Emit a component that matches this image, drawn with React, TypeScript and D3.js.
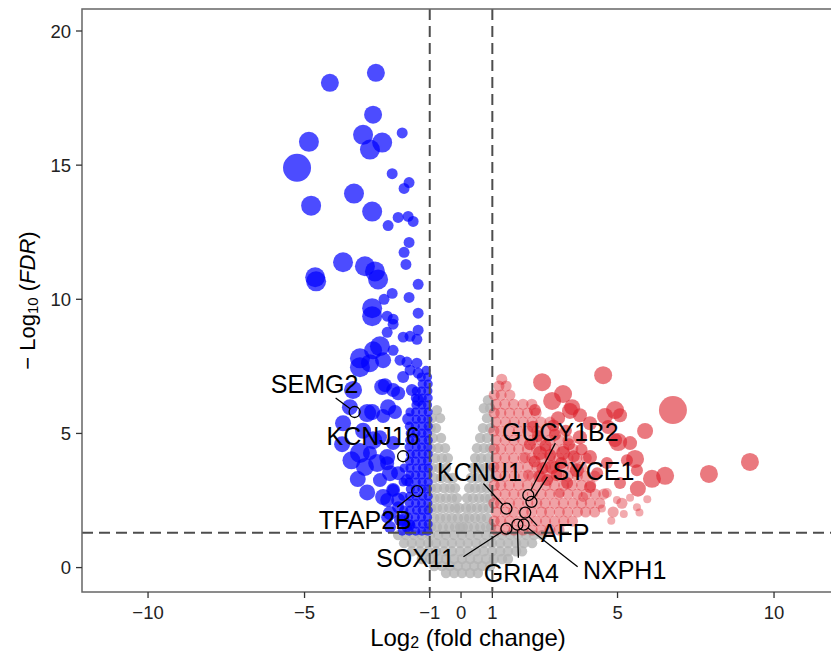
import * as d3 from "d3";

// axis ticks
const xTicks = [-10, -5, -1, 0, 1, 5, 10];
const yTicks = [0, 5, 10, 15, 20];
const fcCut = 1;
const fdrCut = 1.3;

// down-regulated genes, scattered: [log2FC, -log10 FDR, baseMean]
const downGenes: [number, number, number][] = [
  [-4.19, 18.07, 81], [-2.72, 18.44, 81], [-2.81, 16.88, 81], [-1.88, 16.2, 30],
  [-3.13, 16.13, 100], [-2.52, 15.84, 100], [-2.91, 15.58, 100], [-4.86, 15.87, 100],
  [-5.24, 14.9, 196], [-2.2, 14.68, 30], [-1.66, 14.35, 30], [-1.82, 14.13, 30],
  [-3.42, 13.94, 100], [-4.79, 13.49, 100], [-2.84, 13.27, 100], [-2.01, 13.05, 30],
  [-1.69, 13.09, 30], [-1.53, 12.9, 30], [-2.33, 12.75, 30], [-1.66, 12.12, 30],
  [-1.82, 11.75, 30], [-1.76, 11.3, 30], [-3.77, 11.38, 100], [-3.07, 11.23, 100],
  [-2.75, 11.04, 100], [-2.65, 10.74, 100], [-4.66, 10.82, 100], [-4.63, 10.67, 100],
  [-1.37, 10.56, 30], [-2.2, 10.22, 30], [-2.46, 10.0, 30], [-1.66, 10.07, 30],
  [-2.84, 9.67, 100], [-2.84, 9.37, 100], [-1.37, 9.48, 30], [-2.36, 9.37, 30],
  [-2.17, 9.26, 30], [-2.17, 9.07, 30], [-2.36, 8.77, 30], [-1.85, 8.59, 30],
  [-1.63, 8.62, 30], [-1.37, 8.85, 30], [-1.41, 8.51, 30], [-2.59, 8.25, 100],
  [-2.17, 8.1, 30], [-1.95, 7.73, 30], [-1.73, 7.66, 30], [-1.41, 7.62, 30],
  [-1.63, 7.36, 30], [-1.37, 7.25, 30], [-3.23, 7.8, 100], [-2.91, 7.62, 81],
  [-2.81, 8.1, 81], [-3.23, 7.47, 100], [-2.49, 7.73, 64], [-3.45, 6.62, 81],
  [-2.52, 6.73, 64], [-2.17, 6.62, 49], [-1.85, 7.1, 36], [-3.0, 5.76, 81],
  [-2.33, 5.98, 64], [-3.77, 5.38, 64], [-2.81, 4.75, 81], [-3.23, 4.27, 100],
  [-2.68, 3.9, 81], [-3.07, 3.75, 81], [-2.27, 3.52, 64], [-2.36, 4.12, 64],
  [-2.17, 2.89, 49], [-2.49, 2.63, 64], [-2.01, 2.52, 49], [-1.73, 3.26, 36],
  [-2.27, 2.03, 49], [-1.85, 1.77, 36], [-1.63, 1.58, 30], [-3.55, 5.98, 64],
  [-3.8, 4.6, 64], [-3.5, 4.0, 81], [-3.3, 3.3, 64], [-3.0, 2.8, 64],
  [-2.43, 6.8, 49], [-2.01, 6.5, 49], [-1.57, 6.62, 36], [-1.37, 6.24, 36],
  [-2.84, 5.8, 64], [-2.49, 5.65, 49], [-2.11, 5.8, 49], [-1.69, 5.54, 36],
  [-3.13, 5.1, 64], [-2.59, 4.86, 49], [-2.17, 4.64, 49], [-2.91, 4.27, 49],
  [-2.36, 3.89, 49], [-2.01, 3.52, 49], [-2.59, 3.26, 49], [-2.17, 2.89, 36],
  [-2.36, 2.52, 49], [-2.01, 2.25, 36], [-2.36, 1.88, 36], [-1.95, 1.77, 36],
  [-2.27, 1.51, 36], [-1.73, 1.51, 30],
];

// down-regulated genes packed near the cut-off: [-log10 FDR, log2FC list]
const downDense: [number, number[]][] = [
  [1.36, [-1.06, -1.25, -1.45, -1.66, -1.88]],
  [1.62, [-1.05, -1.23, -1.43, -1.62, -1.84]],
  [1.88, [-1.07, -1.26, -1.46, -1.68]],
  [2.14, [-1.05, -1.24, -1.42, -1.63, -1.83]],
  [2.4, [-1.06, -1.26, -1.45, -1.65]],
  [2.66, [-1.05, -1.23, -1.44, -1.64, -1.86]],
  [2.93, [-1.07, -1.25, -1.46, -1.62]],
  [3.19, [-1.05, -1.24, -1.43, -1.66, -1.85]],
  [3.45, [-1.06, -1.26, -1.45, -1.64]],
  [3.71, [-1.05, -1.23, -1.42, -1.63, -1.82]],
  [3.97, [-1.07, -1.25, -1.46, -1.65]],
  [4.23, [-1.05, -1.24, -1.44, -1.62]],
  [4.49, [-1.06, -1.26, -1.43, -1.66]],
  [4.75, [-1.05, -1.23, -1.45, -1.64]],
  [5.01, [-1.07, -1.25, -1.44, -1.62]],
  [5.27, [-1.05, -1.24, -1.46, -1.65]],
  [5.53, [-1.06, -1.26, -1.43]],
  [5.8, [-1.05, -1.23, -1.45, -1.63]],
  [6.06, [-1.07, -1.25, -1.44]],
  [6.32, [-1.05, -1.24, -1.46]],
  [6.58, [-1.06, -1.26, -1.43]],
  [6.84, [-1.05, -1.24]],
  [7.1, [-1.07, -1.27]],
  [7.35, [-1.12]],
];

// up-regulated genes, scattered: [log2FC, -log10 FDR, baseMean]
const upGenes: [number, number, number][] = [
  [6.77, 5.87, 196], [4.54, 7.17, 81], [4.92, 5.87, 81], [4.6, 5.65, 64], [3.26, 6.47, 81],
  [5.02, 4.68, 81], [5.56, 4.05, 81], [6.1, 3.31, 81], [6.52, 3.42, 81], [7.92, 3.49, 81],
  [9.23, 3.94, 81], [3.48, 5.84, 64], [2.59, 6.91, 81], [2.91, 6.21, 81], [5.88, 5.09, 64],
  [5.65, 2.94, 64], [2.36, 5.87, 36], [3.55, 5.98, 64], [3.8, 5.68, 49], [5.08, 5.68, 49],
  [3.1, 5.57, 49], [4.12, 5.38, 49], [4.7, 5.24, 49], [3.8, 4.86, 49], [4.92, 4.75, 49],
  [5.4, 4.64, 49], [2.52, 4.27, 49], [3.26, 4.27, 49], [4.12, 4.12, 49], [4.66, 3.9, 36],
  [5.3, 4.0, 36], [2.91, 3.75, 49], [3.7, 3.63, 49], [4.35, 3.52, 36], [5.62, 3.63, 36],
  [2.75, 3.26, 36], [3.39, 3.15, 36], [4.12, 3.0, 36], [5.08, 3.15, 36], [3.16, 2.78, 25],
  [3.9, 2.63, 25], [4.66, 2.78, 25], [5.62, 2.25, 16], [4.98, 2.52, 16], [5.4, 2.6, 16],
  [5.7, 2.05, 16], [5.95, 2.55, 16], [4.8, 1.75, 16], [4.5, 2.2, 16], [5.2, 2.0, 16],
  [2.45, 4.9, 36], [2.7, 4.55, 36], [3.0, 4.95, 36], [2.35, 3.95, 36], [3.05, 3.45, 36],
  [2.6, 3.7, 36], [3.45, 4.6, 36], [2.2, 4.6, 36], [2.85, 4.2, 36], [3.2, 3.9, 36],
  [2.5, 3.4, 36], [3.6, 4.15, 36], [2.95, 5.3, 36], [3.35, 5.1, 36], [2.3, 5.25, 36],
  [3.85, 4.4, 36], [2.05, 4.1, 30], [2.15, 3.45, 30],
];

// up-regulated genes packed near the cut-off: [-log10 FDR, log2FC list]
const upDense: [number, number[]][] = [
  [1.4, [1.12, 1.41, 1.69, 1.98, 2.27, 2.56, 2.84, 3.13]],
  [1.73, [1.06, 1.27, 1.55, 1.84, 2.12, 2.41, 2.7, 2.99, 3.28, 3.56]],
  [2.07, [1.12, 1.42, 1.68, 1.99, 2.26, 2.57, 2.83, 3.14, 3.41, 3.72, 3.98, 4.27, 4.86]],
  [2.4, [1.05, 1.26, 1.55, 1.83, 2.13, 2.42, 2.69, 2.99, 3.27, 3.57, 3.85, 4.13, 4.43, 5.14]],
  [2.74, [1.12, 1.41, 1.69, 1.97, 2.28, 2.56, 2.84, 3.12, 3.42, 3.71, 4.0, 4.29, 4.56]],
  [3.07, [1.06, 1.27, 1.54, 1.84, 2.12, 2.41, 2.71, 2.98, 3.28, 3.55, 3.85, 4.14]],
  [3.41, [1.12, 1.4, 1.7, 1.99, 2.27, 2.55, 2.84, 3.14, 3.42, 3.72, 3.98, 4.27]],
  [3.75, [1.05, 1.26, 1.55, 1.83, 2.13, 2.42, 2.7, 2.99, 3.27, 3.56, 3.85]],
  [4.08, [1.12, 1.4, 1.68, 1.98, 2.26, 2.57, 2.84, 3.13, 3.42, 3.7, 4.0]],
  [4.42, [1.06, 1.27, 1.56, 1.84, 2.12, 2.41, 2.7, 2.98, 3.28, 3.57]],
  [4.75, [1.12, 1.41, 1.69, 1.97, 2.28, 2.56, 2.84, 3.13, 3.42]],
  [5.09, [1.05, 1.26, 1.55, 1.83, 2.13, 2.42, 2.71, 2.99]],
  [5.42, [1.12, 1.42, 1.7, 1.99, 2.27, 2.55, 2.84]],
  [5.76, [1.06, 1.27, 1.55, 1.84, 2.12, 2.4]],
  [6.09, [1.12, 1.4, 1.68, 1.98, 2.26]],
  [6.43, [1.06, 1.28, 1.56]],
  [6.77, [1.21, 1.44]],
  [7.02, [1.3]],
];

// not significant genes: [-log10 FDR, log2FC list]
const nsDense: [number, number[]][] = [
  [6.24, [0.86]],
  [5.94, [0.73, 0.93]],
  [5.87, [-0.77]],
  [5.57, [-0.67, -0.93, 0.83]],
  [5.2, [-0.8, -0.97, 0.7, 0.93]],
  [4.83, [-0.64, -0.9, 0.61, 0.83]],
  [4.45, [-0.73, -0.51, -0.96, 0.51, 0.73, 0.93]],
  [4.08, [-0.83, -0.61, -0.42, 0.45, 0.64, 0.86]],
  [3.71, [-0.93, -0.7, -0.48, 0.38, 0.58, 0.77, 0.93]],
  [3.34, [-0.86, -0.64, -0.42, -0.26, 0.32, 0.51, 0.7, 0.89]],
  [2.96, [-0.96, -0.77, -0.54, -0.35, -0.19, 0.26, 0.45, 0.64, 0.83]],
  [2.59, [-0.86, -0.67, -0.48, -0.29, -0.13, 0.19, 0.38, 0.58, 0.77, 0.93]],
  [2.22, [-0.96, -0.77, -0.58, -0.38, -0.19, -0.06, 0.16, 0.32, 0.51, 0.7, 0.89]],
  [1.85, [-0.86, -0.67, -0.48, -0.29, -0.1, 0.1, 0.26, 0.45, 0.64, 0.83]],
  [1.51, [-0.96, -0.77, -0.58, -0.38, -0.19, -0.03, 0.06, 0.22, 0.42, 0.61, 0.8, 0.96]],
  [1.21, [-2.01, -1.76, -1.5, -1.25, -0.99, -0.73, -0.48, -0.22, 0.03, 0.29, 0.54, 0.8, 1.05, 1.31, 1.57, 1.82, 2.08, 2.33, 2.59]],
  [0.91, [-1.82, -1.57, -1.31, -1.05, -0.8, -0.54, -0.29, -0.03, 0.22, 0.48, 0.73, 0.99, 1.25, 1.5, 1.76, 2.01, 2.27]],
  [0.61, [-1.57, -1.31, -1.05, -0.8, -0.54, -0.29, -0.03, 0.22, 0.48, 0.73, 0.99, 1.25, 1.5, 1.76, 1.95]],
  [0.32, [-1.25, -0.99, -0.73, -0.48, -0.22, 0.03, 0.29, 0.54, 0.8, 1.05, 1.31, 1.5]],
  [0.06, [-0.86, -0.61, -0.35, -0.1, 0.16, 0.42, 0.67, 0.93]],
  [-0.2, [-0.48, -0.22, 0.03, 0.29, 0.54]],
];
const downDenseMean = 21;
const upDenseMean = 31;
const nsMean = 27;

// highlighted genes
const labelGenes = ["SEMG2", "KCNJ16", "TFAP2B", "KCNU1", "SOX11", "GUCY1B2", "SYCE1", "AFP", "GRIA4", "NXPH1"];
const labelFC = [-3.4, -1.85, -1.4, 1.45, 1.45, 2.15, 2.25, 2.05, 1.8, 2.0];
const labelFDR = [5.8, 4.15, 2.85, 2.2, 1.45, 2.7, 2.45, 2.05, 1.6, 1.6];
// repel placement, px offsets: [text dx, text dy, segment dx, segment dy]
const labelNudge: [number, number, number | null, number | null][] = [
  [-40, -28, -19, -14],
  [-30, -20, null, null],
  [-52, 29, -20, 16],
  [-27, -37, -23, -25],
  [-91, 29, -43, 28],
  [32, -63, 27, -52],
  [62, -31, 16, -25],
  [40, 20, 12, 13],
  [4, 48, 1, 33],
  [101, 45, 54, 42],
];

const W = 831;
const H = 654;
const font = "'Liberation Sans', Arial, Helvetica, sans-serif";

const x = d3.scaleLinear().domain([-12.11, 11.82]).range([82, 831]);
const y = d3.scaleLinear().domain([-0.91, 20.82]).range([592, 9]);
const r = d3.scaleSqrt().domain([0, 100]).range([0, 10]);
const upAlpha = d3.scaleLinear().domain([30, 36]).range([0.38, 0.6]).clamp(true);

const flat = (rows: [number, number[]][], mean: number) =>
  rows.flatMap(([fdr, fcs]) => fcs.map((fc) => [fc, fdr, mean] as [number, number, number]));

export default function App() {
  const ns = flat(nsDense, nsMean);
  const down = [...flat(downDense, downDenseMean), ...downGenes];
  const up = [...flat(upDense, upDenseMean), ...upGenes];

  return (
    <svg width={W} height={H} style={{ position: "absolute", left: 0, top: 0, background: "#fff" }}>
      <defs>
        <clipPath id="panel">
          <rect x={82} y={9} width={760} height={583} />
        </clipPath>
      </defs>

      <g clipPath="url(#panel)">
        {ns.map((d, i) => (
          <circle key={"n" + i} cx={x(d[0])} cy={y(d[1])} r={r(d[2])} fill="#b3b3b3" fillOpacity={0.8} />
        ))}
        {up.map((d, i) => (
          <circle key={"u" + i} cx={x(d[0])} cy={y(d[1])} r={r(d[2])} fill="#dc1f2a" fillOpacity={upAlpha(d[2])} />
        ))}
        {down.map((d, i) => (
          <circle key={"d" + i} cx={x(d[0])} cy={y(d[1])} r={r(d[2])} fill="#0000ff" fillOpacity={0.7} />
        ))}

        {/* cut-off lines */}
        {[-fcCut, fcCut].map((v) => (
          <line key={v} x1={x(v)} x2={x(v)} y1={9} y2={592} stroke="#4d4d4d" strokeWidth={2} strokeDasharray="11,6" />
        ))}
        <line x1={82} x2={840} y1={y(fdrCut)} y2={y(fdrCut)} stroke="#4d4d4d" strokeWidth={2} strokeDasharray="11,6" />
      </g>

      {/* labelled genes */}
      {labelGenes.map((g, i) => {
        const px = x(labelFC[i]);
        const py = y(labelFDR[i]);
        const [tx, ty, lx, ly] = labelNudge[i];
        let seg = null;
        if (lx !== null && ly !== null) {
          const len = Math.hypot(lx, ly);
          seg = (
            <line x1={px + (lx / len) * 5.5} y1={py + (ly / len) * 5.5} x2={px + lx} y2={py + ly} stroke="#000" strokeWidth={1.3} />
          );
        }
        return (
          <g key={g}>
            <circle cx={px} cy={py} r={5.5} fill="none" stroke="#000" strokeWidth={1.3} />
            {seg}
            <text x={px + tx} y={py + ty} textAnchor="middle" dominantBaseline="central" fontFamily={font} fontSize={25} fill="#000">
              {g}
            </text>
          </g>
        );
      })}

      {/* panel border */}
      <rect x={82} y={9} width={760} height={583} fill="none" stroke="#666" strokeWidth={1.5} />

      {/* x axis */}
      {xTicks.map((t) => (
        <g key={t}>
          <line x1={x(t)} x2={x(t)} y1={592} y2={598} stroke="#333" strokeWidth={1.3} />
          <text x={x(t)} y={612} textAnchor="middle" dominantBaseline="central" fontFamily={font} fontSize={18.5} fill="#222">
            {t < 0 ? "\u2212" + Math.abs(t) : t}
          </text>
        </g>
      ))}
      <text x={468} y={637} textAnchor="middle" dominantBaseline="central" fontFamily={font} fontSize={24} fill="#000">
        Log<tspan fontSize={16} dy={5}>2</tspan>
        <tspan dy={-5}> (fold change)</tspan>
      </text>

      {/* y axis */}
      {yTicks.map((t) => (
        <g key={t}>
          <line x1={76} x2={82} y1={y(t)} y2={y(t)} stroke="#333" strokeWidth={1.3} />
          <text x={71} y={y(t)} textAnchor="end" dominantBaseline="central" fontFamily={font} fontSize={18.5} fill="#222">
            {t}
          </text>
        </g>
      ))}
      <text
        transform={`translate(27, ${(9 + 592) / 2}) rotate(-90)`}
        textAnchor="middle"
        dominantBaseline="central"
        fontFamily={font}
        fontSize={22}
        fill="#000"
      >
        {"\u2212 Log"}
        <tspan fontSize={15} dy={5}>10</tspan>
        <tspan dy={-5}> (</tspan>
        <tspan fontStyle="italic">FDR</tspan>)
      </text>
    </svg>
  );
}
